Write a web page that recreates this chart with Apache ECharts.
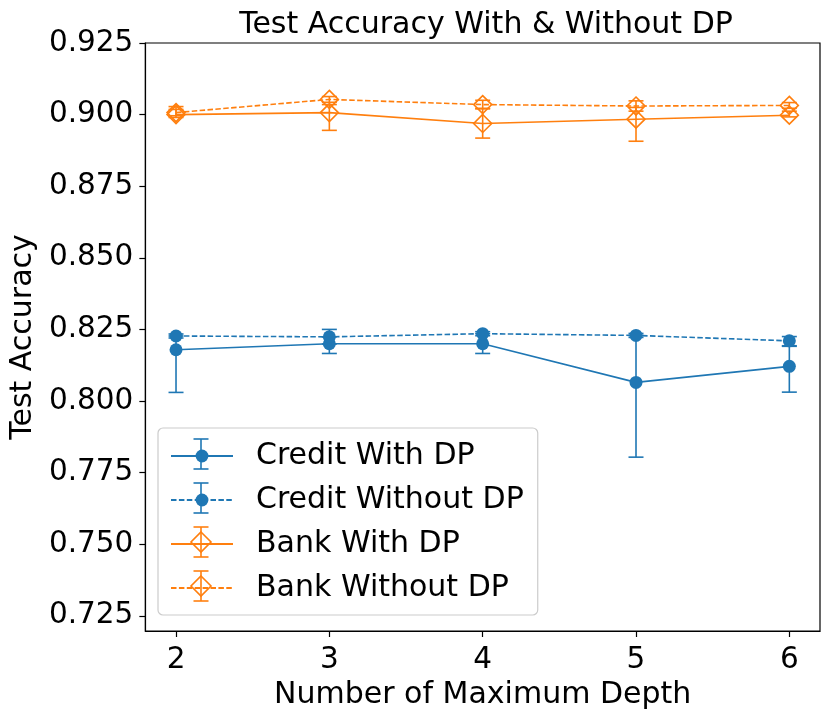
<!DOCTYPE html>
<html>
<head>
<meta charset="utf-8">
<script src="https://cdn.jsdelivr.net/npm/echarts@6/dist/echarts.min.js"></script>
<style>html,body{margin:0;padding:0;background:#fff}#c{width:831px;height:717px}</style>
</head>
<body>
<div id="c"></div>
<script>
const depths = [2, 3, 4, 5, 6];
const xTicks = [2, 3, 4, 5, 6];
const yTicks = [0.725, 0.75, 0.775, 0.8, 0.825, 0.85, 0.875, 0.9, 0.925];

const creditDP      = [0.8179, 0.8200, 0.8200, 0.8065, 0.8121];
const creditDPLow   = [0.8030, 0.8166, 0.8166, 0.7804, 0.8031];
const creditDPHigh  = [0.8227, 0.8224, 0.8235, 0.8229, 0.8191];
const creditNoDP     = [0.8227, 0.8224, 0.8235, 0.8229, 0.8210];
const creditNoDPLow  = [0.8220, 0.8199, 0.8228, 0.8222, 0.8193];
const creditNoDPHigh = [0.8234, 0.8250, 0.8242, 0.8236, 0.8225];
const bankDP      = [0.9000, 0.9007, 0.8969, 0.8984, 0.8998];
const bankDPLow   = [0.8990, 0.8945, 0.8918, 0.8907, 0.8992];
const bankDPHigh  = [0.9028, 0.9035, 0.9022, 0.9025, 0.9012];
const bankNoDP     = [0.9007, 0.9053, 0.9035, 0.9030, 0.9032];
const bankNoDPLow  = [0.8996, 0.9043, 0.9020, 0.9012, 0.9022];
const bankNoDPHigh = [0.9018, 0.9063, 0.9050, 0.9048, 0.9042];

const BLUE = '#1f77b4', ORANGE = '#ff7f0e';
const FONT = 'DejaVu Sans';
const DIAMOND = 'path://M0,-10 L10,0 L0,10 L-10,0 Z';
const CLEAR = 'rgba(0,0,0,0)';

function pts(ys) { return depths.map((d, i) => [d, ys[i]]); }
function errData(lo, hi) { return depths.map((d, i) => [d, lo[i], hi[i]]); }
function errSeries(name, color, lo, hi) {
  return {
    name: name, type: 'custom', silent: true, z: 3,
    data: errData(lo, hi),
    encode: { x: 0, y: [1, 2] },
    renderItem: function (params, api) {
      const x = api.value(0);
      const a = api.coord([x, api.value(1)]);
      const b = api.coord([x, api.value(2)]);
      const hw = 7.5;
      const st = { stroke: color, lineWidth: 1.6, fill: null };
      return { type: 'group', children: [
        { type: 'line', shape: { x1: a[0], y1: a[1], x2: b[0], y2: b[1] }, style: st },
        { type: 'line', shape: { x1: a[0] - hw, y1: a[1], x2: a[0] + hw, y2: a[1] }, style: st },
        { type: 'line', shape: { x1: b[0] - hw, y1: b[1], x2: b[0] + hw, y2: b[1] }, style: st }
      ]};
    }
  };
}
function lineSeries(name, ys, color, dashed, diamond) {
  return {
    name: name, type: 'line', data: pts(ys), z: 4,
    color: color,
    symbol: diamond ? DIAMOND : 'circle',
    symbolSize: diamond ? 18 : 13,
    showAllSymbol: true,
    lineStyle: { color: color, width: 1.6, type: dashed ? [5.5, 2.4] : 'solid' },
    itemStyle: diamond
      ? { color: CLEAR, borderColor: color, borderWidth: 1.6 }
      : { color: color },
    emphasis: { disabled: true },
    animation: false
  };
}

const legendNames = ['Credit With DP', 'Credit Without DP', 'Bank With DP', 'Bank Without DP'];
const legendColors = [BLUE, BLUE, ORANGE, ORANGE];
const legendDiamond = [false, false, true, true];
const legendRowY = [454, 498, 542, 586];
const legendIconX = 201;
const legendGraphics = [];
legendRowY.forEach((y, i) => {
  const st = { stroke: legendColors[i], lineWidth: 1.6 };
  legendGraphics.push(
    { type: 'line', z: 200, shape: { x1: legendIconX, y1: y - 15, x2: legendIconX, y2: y + 15 }, style: st },
    { type: 'line', z: 200, shape: { x1: legendIconX - 7.5, y1: y - 15, x2: legendIconX + 7.5, y2: y - 15 }, style: st },
    { type: 'line', z: 200, shape: { x1: legendIconX - 7.5, y1: y + 15, x2: legendIconX + 7.5, y2: y + 15 }, style: st }
  );
  if (legendDiamond[i]) {
    legendGraphics.push({ type: 'polygon', z: 201,
      shape: { points: [[legendIconX, y - 10], [legendIconX + 10, y], [legendIconX, y + 10], [legendIconX - 10, y]] },
      style: { stroke: legendColors[i], lineWidth: 1.6, fill: null } });
  }
});

const chart = echarts.init(document.getElementById('c'), null, { renderer: 'canvas' });
chart.setOption({
  animation: false,
  backgroundColor: '#fff',
  textStyle: { fontFamily: FONT },
  title: {
    text: 'Test Accuracy With & Without DP',
    left: 481, top: 5, textAlign: 'center',
    textStyle: { fontFamily: FONT, fontSize: 30, fontWeight: 'normal', color: '#000' }
  },
  grid: { left: 143, right: 11, top: 43, bottom: 86, show: true, borderColor: '#000', borderWidth: 1.2, containLabel: false },
  xAxis: {
    type: 'value', min: 1.8, max: 6.2,
    name: 'Number of Maximum Depth', nameLocation: 'middle', nameGap: 49,
    nameTextStyle: { fontFamily: FONT, fontSize: 30, color: '#000' },
    axisLine: { show: true, onZero: false, lineStyle: { color: '#000', width: 1.2 } },
    axisTick: { show: true, inside: false, length: 6, customValues: xTicks, lineStyle: { color: '#000', width: 1.2 } },
    axisLabel: { customValues: xTicks, margin: 14, fontFamily: FONT, fontSize: 29.5, color: '#000' },
    splitLine: { show: false }
  },
  yAxis: {
    type: 'value', min: 0.7197, max: 0.925,
    name: 'Test Accuracy', nameLocation: 'middle', nameGap: 88,
    nameTextStyle: { fontFamily: FONT, fontSize: 30, color: '#000' },
    axisLine: { show: true, onZero: false, lineStyle: { color: '#000', width: 1.2 } },
    axisTick: { show: true, inside: false, length: 6, customValues: yTicks, lineStyle: { color: '#000', width: 1.2 } },
    axisLabel: { customValues: yTicks, margin: 12, fontFamily: FONT, fontSize: 29.5, color: '#000',
      formatter: v => v.toFixed(3) },
    splitLine: { show: false }
  },
  legend: {
    data: legendNames.map((n, i) => legendDiamond[i]
      ? { name: n, itemStyle: { color: CLEAR, borderColor: CLEAR, borderWidth: 0 } }
      : { name: n }),
    orient: 'vertical', left: 158, top: 428,
    backgroundColor: 'rgba(255,255,255,0.85)', borderColor: '#cccccc', borderWidth: 1.2, borderRadius: 5,
    padding: [11, 14, 10, 12],
    itemWidth: 62, itemHeight: 16, itemGap: 10,
    textStyle: { fontFamily: FONT, fontSize: 30, color: '#000', lineHeight: 34, padding: [0, 0, 0, 18] },
    selectedMode: false
  },
  graphic: legendGraphics,
  series: [
    errSeries('e1', BLUE, creditDPLow, creditDPHigh),
    errSeries('e2', BLUE, creditNoDPLow, creditNoDPHigh),
    errSeries('e3', ORANGE, bankDPLow, bankDPHigh),
    errSeries('e4', ORANGE, bankNoDPLow, bankNoDPHigh),
    lineSeries('Credit With DP', creditDP, BLUE, false, false),
    lineSeries('Credit Without DP', creditNoDP, BLUE, true, false),
    lineSeries('Bank With DP', bankDP, ORANGE, false, true),
    lineSeries('Bank Without DP', bankNoDP, ORANGE, true, true)
  ]
});
</script>
</body>
</html>
